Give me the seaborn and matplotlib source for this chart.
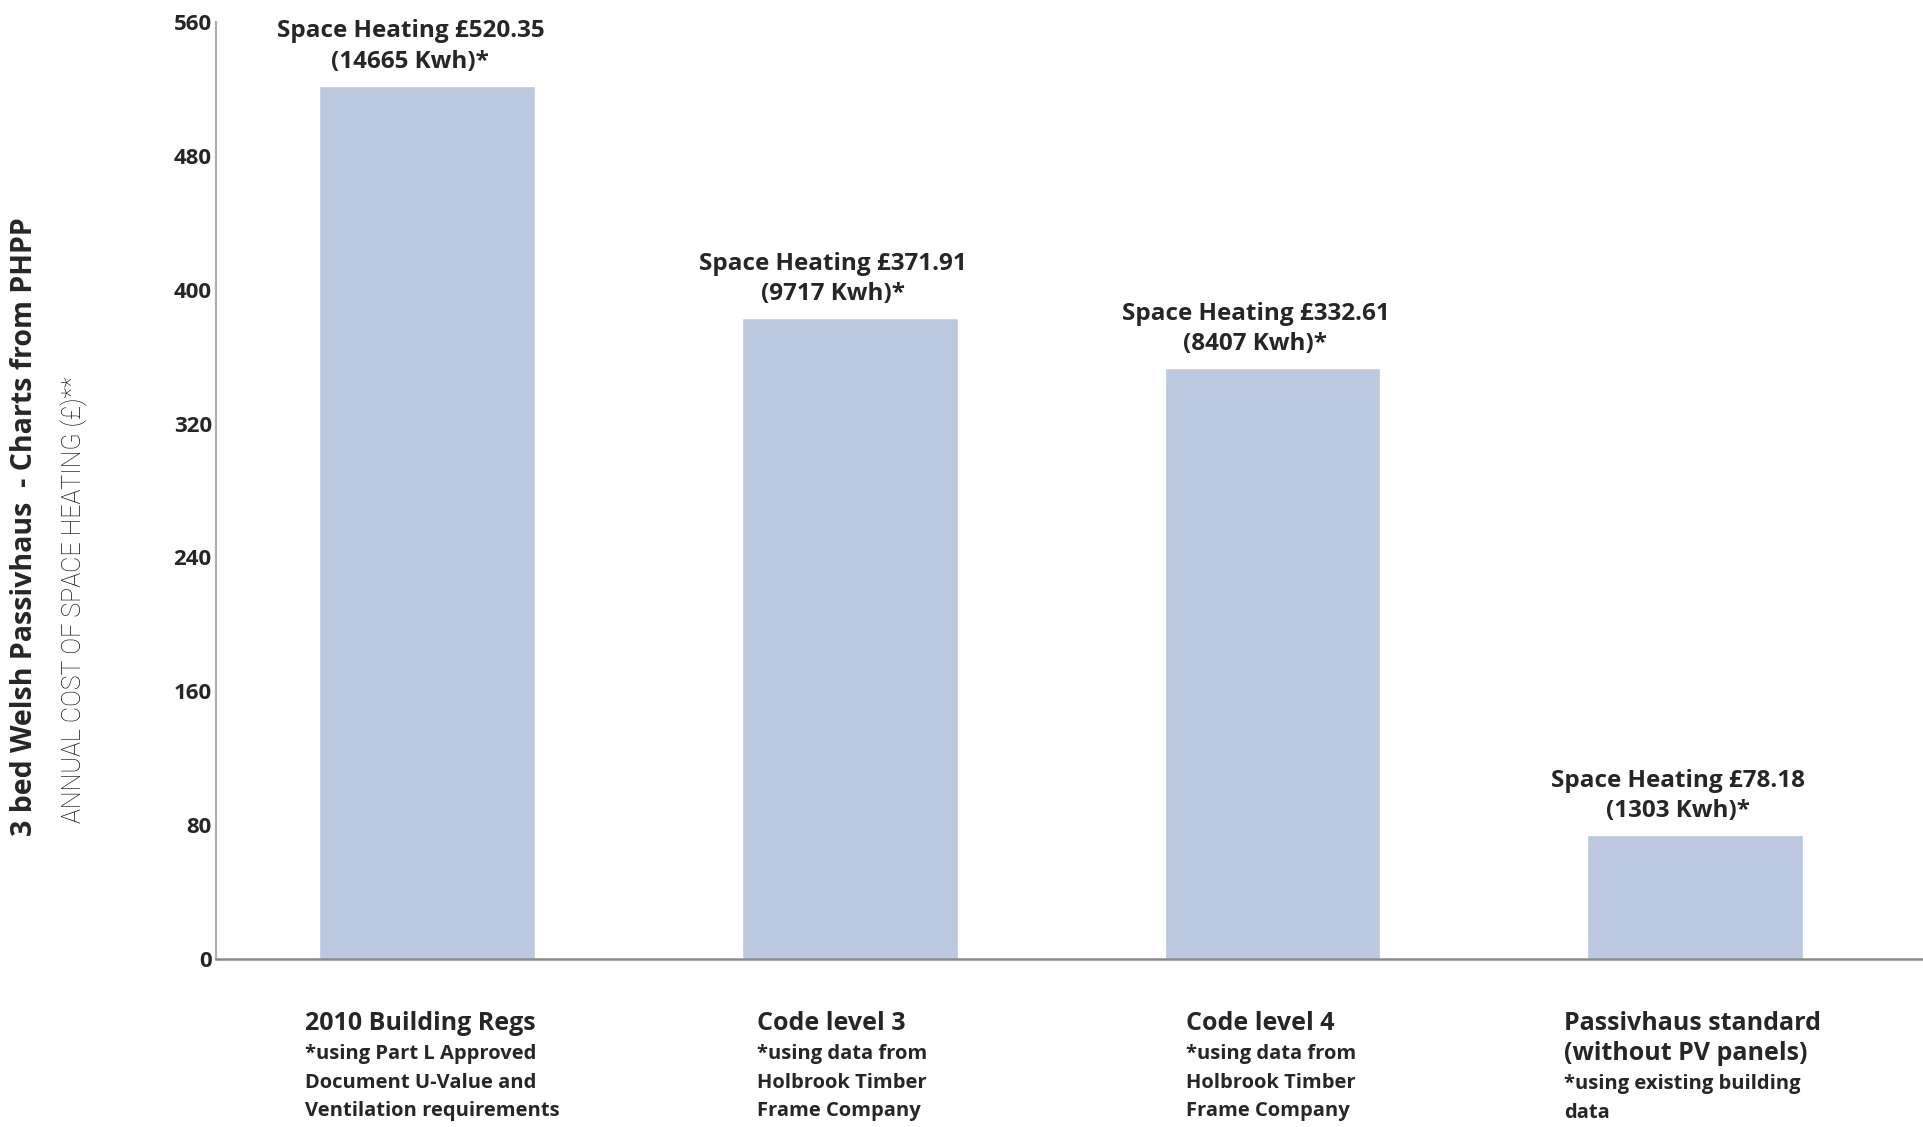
import matplotlib.pyplot as plt
import seaborn as sns
import pandas as pd
from matplotlib.transforms import blended_transform_factory

# values
categories = ["2010 Building Regs", "Code level 3", "Code level 4", "Passivhaus standard"]
bar_values = [522, 383, 353, 74]
cost_labels = ["£520.35", "£371.91", "£332.61", "£78.18"]
kwh_labels = ["14665", "9717", "8407", "1303"]
head_lines = [
    ["2010 Building Regs"],
    ["Code level 3"],
    ["Code level 4"],
    ["Passivhaus standard", "(without PV panels)"],
]
note_lines = [
    ["*using Part L Approved", "Document U-Value and", "Ventilation requirements"],
    ["*using data from", "Holbrook Timber", "Frame Company"],
    ["*using data from", "Holbrook Timber", "Frame Company"],
    ["*using existing building", "data"],
]
y_ticks = [0, 80, 160, 240, 320, 400, 480, 560]

df = pd.DataFrame({"standard": categories, "cost": bar_values})

sns.set_style("white")
plt.rcParams["font.family"] = ["Open Sans", "DejaVu Sans"]

fig = plt.figure(figsize=(19.23, 11.27), dpi=100)
ax = fig.add_axes([0.1123, 0.149, 0.8877, 0.8315])

sns.barplot(data=df, x="standard", y="cost", color="#BBC8E0", saturation=1,
            width=0.51, ax=ax)

ax.set_xlim(-0.5, 3.54)
ax.set_ylim(0, 560)
ax.set_yticks(y_ticks)
ax.set_yticklabels([str(t) for t in y_ticks], fontsize=16, fontweight="bold")
ax.tick_params(axis="y", length=0, pad=3)
ax.set_xticks([])
ax.set_xlabel("")
ax.set_ylabel("")

sns.despine(ax=ax, top=True, right=True)
ax.spines["left"].set_color("#b0b0b0")
ax.spines["left"].set_linewidth(1.6)
ax.spines["bottom"].set_color("#8a8a8a")
ax.spines["bottom"].set_linewidth(1.8)

# value labels above bars
for i, (v, c, k) in enumerate(zip(bar_values, cost_labels, kwh_labels)):
    ax.annotate(f"Space Heating {c}\n({k} Kwh)*", xy=(i - 0.04, v),
                xytext=(0, 12), textcoords="offset pixels",
                ha="center", va="bottom", fontsize=17.5, fontweight="bold",
                linespacing=1.35)

# category labels below the axis
trans = blended_transform_factory(ax.transData, fig.transFigure)
label_dx = [-0.29, -0.22, -0.205, -0.31]
for i in range(len(categories)):
    y = 1 - 1024 / 1127
    for line in head_lines[i]:
        ax.text(i + label_dx[i], y, line, transform=trans, ha="left", va="center",
                fontsize=18, fontweight="bold")
        y -= 30 / 1127
    for line in note_lines[i]:
        ax.text(i + label_dx[i], y, line, transform=trans, ha="left", va="center",
                fontsize=14.5, fontweight="bold")
        y -= 28.5 / 1127

# y-axis titles
fig.text(0.013, 0.258, "3 bed Welsh Passivhaus  - Charts from PHPP", rotation=90,
         ha="center", va="bottom", fontsize=20.5, fontweight="bold")
fig.text(0.0385, 0.27, "ANNUAL COST OF SPACE HEATING (£)**", rotation=90,
         ha="center", va="bottom", fontsize=18, fontweight="light",
         color="#111111", family=["Roboto", "DejaVu Sans"])

fig.savefig("out.png", dpi=100)
